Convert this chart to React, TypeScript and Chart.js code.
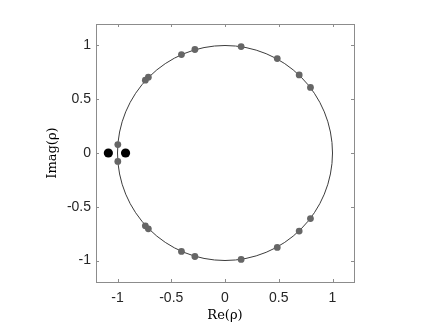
import React, { useEffect, useRef } from "react";
import { Chart, registerables } from "chart.js";

Chart.register(...registerables);

// Gray roots (Re, Im)
const grayRe = [0.15, -0.28, -0.405, 0.486, 0.69, 0.795, -0.713, -0.741, -0.997,
  0.15, -0.28, -0.405, 0.486, 0.69, 0.795, -0.713, -0.741, -0.997];
const grayIm = [0.99, 0.963, 0.916, 0.878, 0.726, 0.61, 0.705, 0.677, 0.078,
  -0.99, -0.963, -0.916, -0.878, -0.726, -0.61, -0.705, -0.677, -0.078];
// Black points (Re, Im)
const blackRe = [-1.085, -0.925];
const blackIm = [0, 0];
// Axis ticks
const xTicks = [-1, -0.5, 0, 0.5, 1];
const yTicks = [-1, -0.5, 0, 0.5, 1];
const axisMin = -1.2;
const axisMax = 1.2;
const circleRadius = 1;

const FRAME = "#8c8c8c";

const framePlugin = {
  id: "frameAndCircle",
  beforeDatasetsDraw(chart: any) {
    const { ctx, chartArea, scales } = chart;
    const xs = scales.x, ys = scales.y;
    ctx.save();
    // unit circle
    const cx = xs.getPixelForValue(0);
    const cy = ys.getPixelForValue(0);
    const r = xs.getPixelForValue(circleRadius) - cx;
    ctx.beginPath();
    ctx.arc(cx, cy, r, 0, Math.PI * 2);
    ctx.strokeStyle = "#3c3c3c";
    ctx.lineWidth = 1;
    ctx.stroke();
    ctx.restore();
  },
  afterDatasetsDraw(chart: any) {
    const { ctx, chartArea, scales } = chart;
    const { left, right, top, bottom } = chartArea;
    const xs = scales.x, ys = scales.y;
    ctx.save();
    ctx.strokeStyle = FRAME;
    ctx.lineWidth = 1;
    ctx.strokeRect(Math.round(left) + 0.5, Math.round(top) + 0.5, Math.round(right - left), Math.round(bottom - top));
    const tl = 3;
    ctx.beginPath();
    xTicks.forEach((v) => {
      const px = Math.round(xs.getPixelForValue(v)) + 0.5;
      ctx.moveTo(px, bottom);
      ctx.lineTo(px, bottom - tl);
      ctx.moveTo(px, top);
      ctx.lineTo(px, top + tl);
    });
    yTicks.forEach((v) => {
      const py = Math.round(ys.getPixelForValue(v)) + 0.5;
      ctx.moveTo(left, py);
      ctx.lineTo(left + tl, py);
      ctx.moveTo(right, py);
      ctx.lineTo(right - tl, py);
    });
    ctx.stroke();
    ctx.restore();
  },
};

export default function App() {
  const ref = useRef<HTMLCanvasElement | null>(null);
  useEffect(() => {
    if (!ref.current) return;
    const gray = grayRe.map((x, i) => ({ x, y: grayIm[i] }));
    const black = blackRe.map((x, i) => ({ x, y: blackIm[i] }));
    const tickFont = { family: "'Liberation Sans', Arial, sans-serif", size: 14 };
    const titleFont = { family: "'DejaVu Serif', serif", size: 13 };
    const chart = new Chart(ref.current, {
      type: "scatter",
      data: {
        datasets: [
          {
            data: gray,
            pointRadius: 3.4,
            pointBackgroundColor: "#666666",
            pointBorderWidth: 0,
            borderColor: "#666666",
          },
          {
            data: black,
            pointRadius: 4.6,
            pointBackgroundColor: "#000000",
            pointBorderWidth: 0,
            borderColor: "#000000",
          },
        ],
      },
      options: {
        animation: false,
        responsive: false,
        maintainAspectRatio: false,
        layout: { padding: { left: 0, right: 82, top: 24, bottom: 0 } },
        plugins: { legend: { display: false }, tooltip: { enabled: false } },
        scales: {
          x: {
            type: "linear",
            min: axisMin,
            max: axisMax,
            grid: { display: false, drawTicks: false },
            border: { display: false },
            afterBuildTicks: (s: any) => {
              s.ticks = xTicks.map((v) => ({ value: v }));
            },
            afterFit: (s: any) => {
              s.height = 45;
            },
            ticks: {
              font: tickFont,
              color: "#262626",
              padding: 8,
              maxRotation: 0,
              autoSkip: false,
              callback: (v: any) => String(v),
            },
            title: {
              display: true,
              text: "Re(ρ)",
              font: titleFont,
              color: "#000000",
              padding: { top: 0, bottom: 4 },
            },
          },
          y: {
            type: "linear",
            min: axisMin,
            max: axisMax,
            grid: { display: false, drawTicks: false },
            border: { display: false },
            afterBuildTicks: (s: any) => {
              s.ticks = yTicks.map((v) => ({ value: v }));
            },
            afterFit: (s: any) => {
              s.width = 96;
            },
            ticks: {
              font: tickFont,
              color: "#262626",
              padding: 5,
              autoSkip: false,
              callback: (v: any) => String(v),
            },
            title: {
              display: true,
              text: "Imag(ρ)",
              font: titleFont,
              color: "#000000",
              padding: { top: 45, bottom: 0 },
            },
          },
        },
      },
      plugins: [framePlugin],
    } as any);
    return () => chart.destroy();
  }, []);
  return (
    <div style={{ position: "fixed", left: 0, top: 0, width: 436, height: 327, background: "#fff" }}>
      <canvas ref={ref} width={436} height={327} style={{ display: "block" }} />
    </div>
  );
}
